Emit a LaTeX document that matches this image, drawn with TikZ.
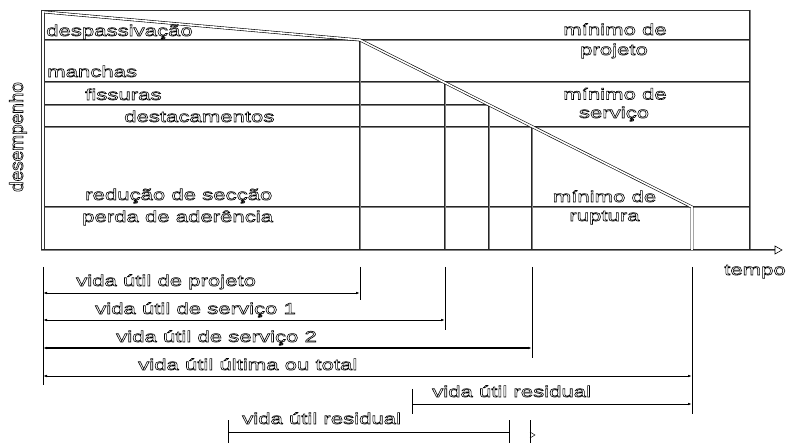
\documentclass[tikz,border=0pt]{standalone}
\usepackage{fontspec}
\setmainfont{Liberation Sans}[FakeStretch=1.42]
\newfontfamily\vfont{Liberation Sans}
\usetikzlibrary{arrows.meta}
\newcommand\olbegin{\special{pdf:literal 1 Tr 0.6 w}}
\newcommand\olend{\special{pdf:literal 0 Tr}}
\tikzset{
  gridline/.style={draw=black!85, line width=0.6pt, double=black!50, double distance=0.9pt},
  frameline/.style={draw=black!80, line width=0.8pt},
  perf/.style={draw=black, line width=0.6pt, double=white, double distance=1.6pt, line join=miter},
  extline/.style={draw=black, line width=0.9pt},
  dimline/.style={draw=black, line width=0.9pt, {Latex[length=4pt,width=2.6pt]}-{Latex[length=4pt,width=2.6pt]}},
  lbl/.style={inner sep=0pt, anchor=base west, font=\fontsize{15.6}{18}\selectfont,
    execute at begin node=\olbegin, execute at end node=\olend},
  clbl/.style={lbl, anchor=base}
}
\begin{document}
\begin{tikzpicture}[x=1pt,y=-1pt]
\useasboundingbox (0,0) rectangle (787,443);
% frame
\draw[frameline] (41,10) -- (750,10);
\draw[frameline] (41,10) -- (41,251);
\draw[frameline] (44.5,12) -- (44.5,250);
% horizontal grid lines
\foreach \yy in {40,82,127,207} \draw[gridline] (44.5,\yy) -- (750,\yy);
\draw[gridline] (44.5,105) -- (489,105);
% vertical grid lines
\draw[gridline] (360,40) -- (360,250);
\draw[gridline] (445,82) -- (445,250);
\draw[gridline] (489,105) -- (489,250);
\draw[gridline] (532,127) -- (532,250);
\draw[gridline] (750,10) -- (750,250);
% time axis
\coordinate (ax0) at (41,250);
\coordinate (ax1) at (775,250);
\draw[gridline] (ax0) -- (ax1);
\draw[draw=black, line width=0.6pt, fill=white] (775,246) -- (782,250) -- (775,254) -- cycle;
% performance curve
\coordinate (p0) at (44.5,12);
\coordinate (p1) at (360,40);
\coordinate (p2) at (692,207);
\coordinate (p3) at (692,250);
\draw[perf] (p0) -- (p1) -- (p2) -- (p3);
% extension lines
\coordinate (e0a) at (43,267);   \coordinate (e0b) at (43,385);
\coordinate (e1a) at (360,267);  \coordinate (e1b) at (360,300);
\coordinate (e2a) at (445,267);  \coordinate (e2b) at (445,330);
\coordinate (e3a) at (532,267);  \coordinate (e3b) at (532,358);
\coordinate (e4a) at (692,267);  \coordinate (e4b) at (692,414);
\foreach \a/\b in {e0a/e0b,e1a/e1b,e2a/e2b,e3a/e3b,e4a/e4b} \draw[extline] (\a) -- (\b);
% dimension lines
\draw[dimline] (43,293) -- (360,293);
\draw[dimline] (43,320) -- (445,320);
\draw[dimline, line width=1.1pt] (43,348) -- (532,348);
\draw[dimline] (43,376) -- (692,376);
% residual (upper)
\coordinate (r1a) at (412,389); \coordinate (r1b) at (412,414);
\draw[extline] (r1a) -- (r1b);
\draw[extline, -{Latex[length=4pt,width=2.6pt]}] (412,404) -- (692,404);
% residual (lower)
\coordinate (r2a) at (228,420); \coordinate (r2b) at (228,443);
\coordinate (r3a) at (509,420); \coordinate (r3b) at (509,443);
\draw[extline] (r2a) -- (r2b);
\draw[extline] (r3a) -- (r3b);
\draw[extline] (228,432) -- (509,432);
\coordinate (r4a) at (530,420); \coordinate (r4b) at (530,443);
\draw[draw=black, line width=0.7pt] (r4a) -- (r4b);
\draw[draw=black, line width=0.5pt] (530,432) -- (535,435) -- (530,438);
% labels
\node[inner sep=0pt, anchor=base, rotate=90, font=\vfont\fontsize{19}{20}\selectfont,
  execute at begin node=\olbegin, execute at end node=\olend] (des) at (23,137) {desempenho};
\node[lbl] (t1) at (46,36) {despassivação};
\node[lbl] (t2) at (47,77) {manchas};
\node[lbl] (t3) at (85,100) {fissuras};
\node[lbl] (t4) at (124,122) {destacamentos};
\node[lbl] (t5) at (85,200) {redução de secção};
\node[lbl] (t6) at (82,222) {perda de aderência};
\node[clbl] (m1) at (615,35) {mínimo de};
\node[clbl] (m2) at (614,55) {projeto};
\node[clbl] (m3) at (615,99.5) {mínimo de};
\node[clbl] (m4) at (614,118) {serviço};
\node[clbl] (m5) at (604.5,202) {mínimo de};
\node[clbl] (m6) at (604.5,221) {ruptura};
\node[lbl] (tp) at (724,275) {tempo};
\node[lbl] (d1) at (76,286) {vida útil de projeto};
\node[lbl] (d2) at (95,314) {vida útil de serviço 1};
\node[lbl] (d3) at (116,342) {vida útil de serviço 2};
\node[lbl] (d4) at (138,370) {vida útil última ou total};
\node[lbl] (d5) at (432,397) {vida útil residual};
\node[lbl] (d6) at (242,424) {vida útil residual};
\end{tikzpicture}
\end{document}
